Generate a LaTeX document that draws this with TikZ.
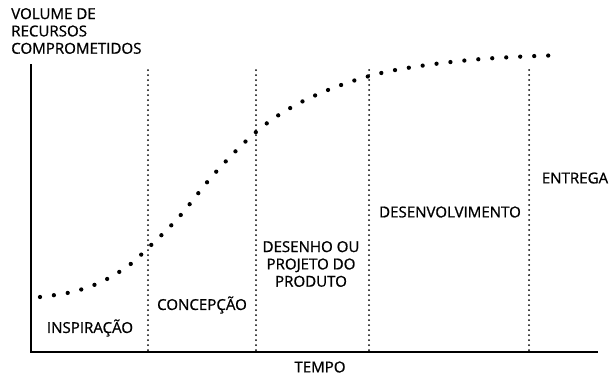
\documentclass[tikz,border=0pt]{standalone}
\usepackage{fontspec}
\setmainfont[FakeBold=0.9]{Open Sans}
\usetikzlibrary{positioning}

\tikzset{
  phasesep/.style={black, line width=1.5pt, line cap=round, dash pattern=on 0pt off 3.75pt},
  curvedots/.style={black, line width=3.2pt, line cap=round, dash pattern=on 0pt off 10.5pt},
  lbl/.style={inner sep=0pt, font=\fontsize{11.3}{13}\selectfont, align=center}
}

\begin{document}
\begin{tikzpicture}[x=0.75pt, y=-0.75pt]

\useasboundingbox (0,0) rectangle (616,376);

% axes
\coordinate (origin) at (31,352);
\coordinate (ytop) at (31,64);
\coordinate (xend) at (598,352);
\draw[black, line width=1pt] (ytop) -- (origin) -- (xend);

% phase separators
\foreach \px in {148,256,369,529}
{
\draw[phasesep] (\px,70) -- (\px,352);
}

% curve
\draw[curvedots] plot[smooth, tension=0.6] coordinates {
  (40,297) (72,292) (101,282) (128,266) (148,248) (179,217) (215,173)
  (256,132) (292,107) (333,88) (377,74) (420,66) (470,60) (513,57) (550,55.5)};

% labels
\node[lbl, anchor=west, align=left] (ylabel) at (11,31) {VOLUME DE\\RECURSOS\\COMPROMETIDOS};
\node[lbl] (xlabel) at (320,367) {TEMPO};

\node[lbl] (inspiracao) at (90,328) {INSPIRAÇÃO};
\node[lbl] (concepcao) at (202,305) {CONCEPÇÃO};
\node[lbl] (desenho) at (311,264) {DESENHO OU\\PROJETO DO\\PRODUTO};
\node[lbl] (desenvolv) at (450,212) {DESENVOLVIMENTO};
\node[lbl] (entrega) at (575,178) {ENTREGA};

\end{tikzpicture}
\end{document}
